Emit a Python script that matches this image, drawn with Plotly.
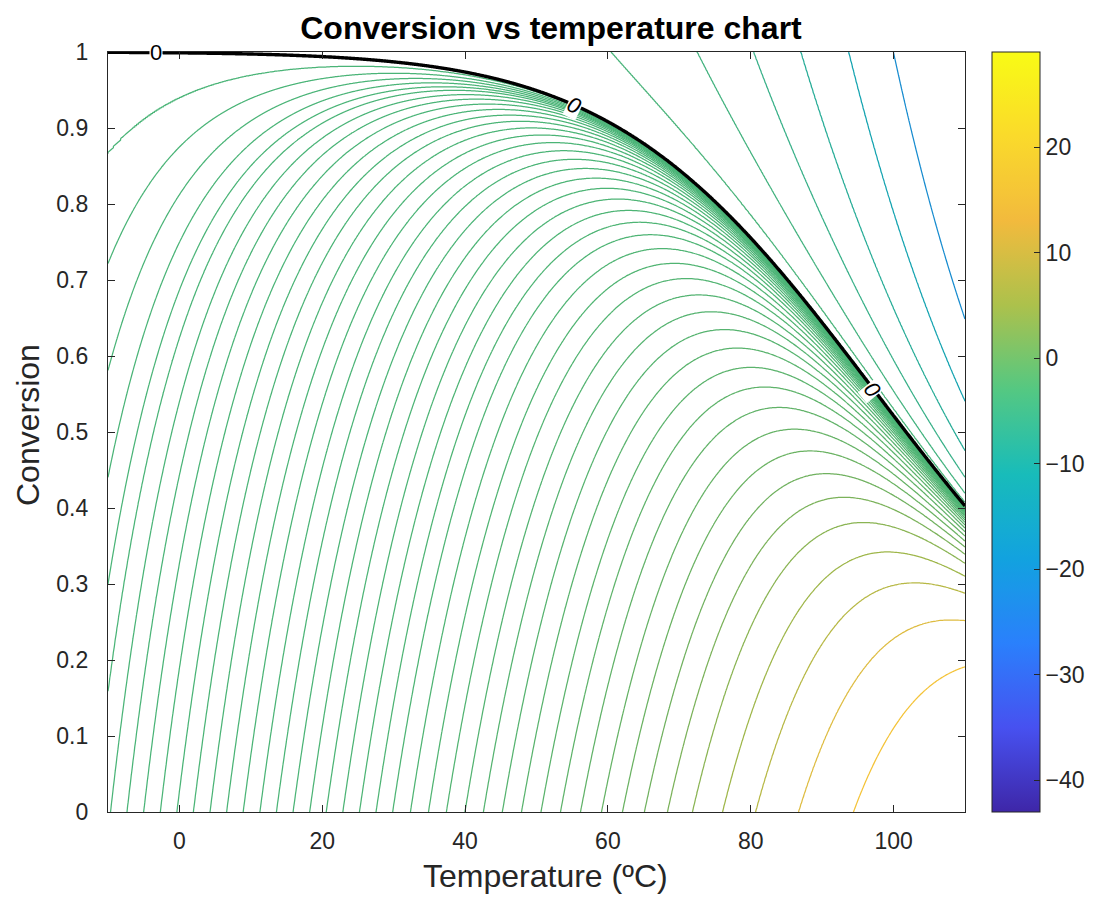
import numpy as np
import plotly.graph_objects as go

# ---------------- data ----------------
temperature_range_C = [-10, 110]
conversion_range = [0, 1]

# reversible exothermic reaction  r = k_f (1-X) - k_r X ; constants at 110 °C
k_forward_ref = 29.0      # max of colour range (T=110, X=0)
k_reverse_ref = 43.0      # |min| of colour range (T=110, X=1)
T_ref_K = 383.15
E_forward_over_R = 5800.0
E_reverse_over_R = 12660.0

rate_levels_negative = [-17.7, -9.9, -5.21, -2.70, -1.19, -0.316]
rate_levels_positive = [0.0039, 0.0081, 0.0122, 0.0163, 0.0204, 0.0245,
                        0.0300, 0.0363, 0.0439, 0.0529, 0.0635, 0.0759, 0.0906,
                        0.1078, 0.1278, 0.1514, 0.1785, 0.2101, 0.2466, 0.2885,
                        0.3369, 0.3926, 0.4561, 0.5289, 0.6182, 0.7225, 0.8411,
                        0.9822, 1.143, 1.332, 1.551, 1.806, 2.098, 2.440, 2.852,
                        3.323, 3.888, 4.572, 5.430, 6.653, 8.265, 10.87, 15.24]
equilibrium_level = 0.0
color_min, color_max = -43.0, 29.0

x_tick_values = [0, 20, 40, 60, 80, 100]
y_tick_values = [0, 0.1, 0.2, 0.3, 0.4, 0.5, 0.6, 0.7, 0.8, 0.9, 1]
colorbar_tick_values = [-40, -30, -20, -10, 0, 10, 20]

zero_label_T = [-3.3, 55.3, 97.0]
zero_label_X = [0.999, 0.93, 0.556]
zero_label_angle = [0, 25, 51]

# ---------------- parula colormap (10 samples) ----------------
PARULA_RGB = np.array([
    (0.2422, 0.1504, 0.6603), (0.2770, 0.3184, 0.9420), (0.1656, 0.5011, 0.9880),
    (0.0711, 0.6364, 0.8744), (0.0922, 0.7358, 0.7286), (0.3295, 0.7846, 0.5112),
    (0.6742, 0.7567, 0.2970), (0.9490, 0.7305, 0.2405), (0.9797, 0.8538, 0.1667),
    (0.9769, 0.9839, 0.0805),
])
P_POS = np.linspace(0, 1, len(PARULA_RGB))


def parula(t, shade=1.0):
    t = float(np.clip(t, 0, 1))
    r, g, b = (np.interp(t, P_POS, PARULA_RGB[:, i]) * shade for i in range(3))
    return f"rgb({round(r*255)},{round(g*255)},{round(b*255)})"


parula_scale = [[float(p), parula(p)] for p in np.linspace(0, 1, 28)]

# ---------------- field ----------------
T_C = np.linspace(temperature_range_C[0], temperature_range_C[1], 481)
X = np.concatenate([np.linspace(0, 0.9, 451), np.linspace(0.90025, 1, 400)])
TT, XX = np.meshgrid(T_C + 273.15, X)
k_f = k_forward_ref * np.exp(-E_forward_over_R * (1 / TT - 1 / T_ref_K))
k_r = k_reverse_ref * np.exp(-E_reverse_over_R * (1 / TT - 1 / T_ref_K))
rate = k_f * (1 - XX) - k_r * XX

levels = np.array(sorted(rate_levels_negative + rate_levels_positive))
N = len(levels)
idx = np.arange(1, N + 1, dtype=float)
# monotone map rate -> level index (linear extension beyond the end levels)
w = np.interp(rate, levels, idx)
lo = rate < levels[0]
w[lo] = 1 + (rate[lo] - levels[0]) / (levels[1] - levels[0])
hi = rate > levels[-1]
w[hi] = N + (rate[hi] - levels[-1]) / (levels[-1] - levels[-2])

# colour of each level line (rate value on the parula range)
line_scale = []
for k, v in enumerate(levels):
    p = (v - color_min) / (color_max - color_min)
    f = float(np.clip((0.75 - p) / 0.1, 0, 1))
    line_scale.append([k / (N - 1), parula(p - 0.045 * f, 1 - 0.1 * f)])

font_family = "Liberation Sans, Arial, Helvetica, sans-serif"
axis_col = "#262626"

fig = go.Figure()
fig.add_trace(go.Contour(
    x=T_C, y=X, z=w, autocontour=False,
    contours=dict(start=1, end=N, size=1, coloring="lines", showlabels=False),
    colorscale=line_scale, showscale=False, line=dict(width=1.25, smoothing=0.8),
    hoverinfo="skip",
))
fig.add_trace(go.Contour(
    x=T_C, y=X, z=rate, autocontour=False,
    contours=dict(start=equilibrium_level, end=equilibrium_level, size=1, coloring="none"),
    line=dict(color="black", width=3.4, smoothing=0.8), showscale=False,
    hoverinfo="skip",
))
fig.add_trace(go.Scatter(
    x=[-100, -100], y=[-100, -100], mode="markers", showlegend=False, hoverinfo="skip",
    marker=dict(color=[color_min, color_max], cmin=color_min, cmax=color_max,
                colorscale=parula_scale, showscale=True, size=1,
                colorbar=dict(x=(992 - 108) / 857, xanchor="left", xref="paper",
                              y=0.5, yanchor="middle", len=1, lenmode="fraction",
                              thickness=48, thicknessmode="pixels", xpad=0, ypad=0,
                              outlinewidth=1, outlinecolor=axis_col,
                              tickvals=colorbar_tick_values, ticks="inside",
                              ticklen=6, tickcolor=axis_col,
                              tickfont=dict(size=23, color=axis_col, family=font_family))),
))

for t, x, a in zip(zero_label_T, zero_label_X, zero_label_angle):
    fig.add_annotation(x=t, y=x, text="<i>0</i>" if a else "0", showarrow=False,
                       textangle=a, bgcolor="white", borderpad=0,
                       font=dict(size=22, color="black", family=font_family))

fig.add_annotation(text="Temperature (ºC)", xref="paper", yref="paper",
                   x=(545 - 108) / 857, y=(812 - 876) / 760, xanchor="center",
                   yanchor="middle", showarrow=False,
                   font=dict(size=32, color=axis_col, family=font_family))
fig.add_annotation(text="Conversion", xref="paper", yref="paper",
                   x=(28 - 108) / 857, y=(812 - 425) / 760, xanchor="center",
                   yanchor="middle", textangle=-90, showarrow=False,
                   font=dict(size=32, color=axis_col, family=font_family))

fig.update_layout(
    width=1093, height=902,
    margin=dict(l=108, r=128, t=52, b=90, autoexpand=False),
    paper_bgcolor="white", plot_bgcolor="white",
    title=dict(text="<b>Conversion vs temperature chart</b>", x=(551 - 108) / 857,
               xref="paper", xanchor="center", y=1 - 28 / 902, yanchor="middle",
               font=dict(size=32, color="black", family=font_family)),
    font=dict(family=font_family, color=axis_col),
    showlegend=False,
)
axis_common = dict(showgrid=False, zeroline=False, showline=True, mirror="ticks",
                   linecolor=axis_col, linewidth=1.2, ticks="inside", ticklen=7,
                   tickcolor=axis_col, tickfont=dict(size=23, color=axis_col))
fig.update_xaxes(range=temperature_range_C, tickvals=x_tick_values,
                 ticklabelstandoff=8, **axis_common)
fig.update_yaxes(range=conversion_range, tickvals=y_tick_values,
                 ticklabelstandoff=14, **axis_common)

fig.write_html("out.html")
